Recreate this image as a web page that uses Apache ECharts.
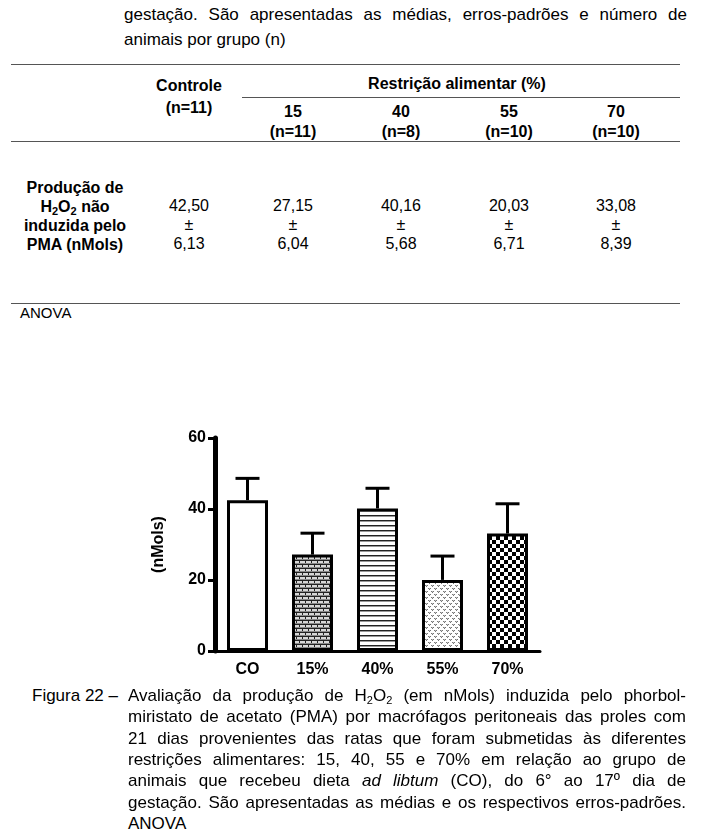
<!DOCTYPE html>
<html lang="pt">
<head>
<meta charset="UTF-8">
<title>Figura 22 - Produção de H2O2</title>
<script src="https://cdn.jsdelivr.net/npm/echarts@6/dist/echarts.min.js"></script>
<style>
  html, body { margin: 0; padding: 0; background: #fff; }
  body { width: 715px; height: 840px; position: relative; overflow: hidden;
         font-family: 'Liberation Sans', Arial, sans-serif; color: #000; }
  .abs { position: absolute; }
  .line { position: absolute; font-size: 17px; line-height: 21px; white-space: normal; }
  .just { text-align: justify; text-align-last: justify; }
  .rule { position: absolute; height: 0; border-top: 1.5px solid #555; }
  .cell { position: absolute; text-align: center; font-size: 16px; }
  .b { font-weight: bold; }
  sub { font-size: 11px; line-height: 0; vertical-align: -3px; }
  #chart { position: absolute; left: 140px; top: 420px; width: 420px; height: 270px; }
</style>
</head>
<body>

<!-- fim da legenda da tabela -->
<div class="line just" style="left:124px; top:4px; width:563px;">gestação. São apresentadas as médias, erros-padrões e número de</div>
<div class="line" style="left:124px; top:29px;">animais por grupo (n)</div>

<!-- tabela -->
<div id="table"></div>
<div class="abs" style="left:20px; top:304px; font-size:15px; line-height:18px;">ANOVA</div>

<div id="chart"></div>

<!-- legenda da figura -->
<div class="line" style="left:32px; top:685px;">Figura 22 –</div>
<div class="line just" style="left:128px; top:685px; width:558px;">Avaliação da produção de H<sub>2</sub>O<sub>2</sub> (em nMols) induzida pelo phorbol-</div>
<div class="line just" style="left:128px; top:706px; width:558px;">miristato de acetato (PMA) por macrófagos peritoneais das proles com</div>
<div class="line just" style="left:128px; top:728px; width:558px;">21 dias provenientes das ratas que foram submetidas às diferentes</div>
<div class="line just" style="left:128px; top:749px; width:558px;">restrições alimentares: 15, 40, 55 e 70% em relação ao grupo de</div>
<div class="line just" style="left:128px; top:770px; width:558px;">animais que recebeu dieta <i>ad libtum</i> (CO), do 6° ao 17º dia de</div>
<div class="line just" style="left:128px; top:792px; width:558px;">gestação. São apresentadas as médias e os respectivos erros-padrões.</div>
<div class="line" style="left:128px; top:813px;">ANOVA</div>

<script>
// dados
const categories = ['CO', '15%', '40%', '55%', '70%'];
const groups = ['15', '40', '55', '70'];
const nPerGroup = [11, 11, 8, 10, 10];
const means = [42.50, 27.15, 40.16, 20.03, 33.08];
const sems = [6.13, 6.04, 5.68, 6.71, 8.39];
const yMin = 0, yMax = 60, yStep = 20;

const FONT = "'Liberation Sans', Arial, sans-serif";
const fmt = v => v.toFixed(2).replace('.', ',');

// --- tabela em HTML ---
const table = document.getElementById('table');
const colX = [189, 293, 401, 509, 616];
let html = '';
html += '<div class="rule" style="left:11px; top:64px; width:669px;"></div>';
html += '<div class="rule" style="left:242px; top:97px; width:438px;"></div>';
html += '<div class="rule" style="left:11px; top:141px; width:669px;"></div>';
html += '<div class="rule" style="left:11px; top:303px; width:669px;"></div>';
html += '<div class="cell b" style="left:' + (colX[0] - 60) + 'px; top:75px; width:120px; line-height:22px;">Controle<br>(n=' + nPerGroup[0] + ')</div>';
html += '<div class="cell b" style="left:307px; top:74px; width:300px; line-height:20px;">Restrição alimentar (%)</div>';
groups.forEach((g, i) => {
  html += '<div class="cell b" style="left:' + (colX[i + 1] - 50) + 'px; top:102px; width:100px; line-height:20px;">' +
          g + '<br>(n=' + nPerGroup[i + 1] + ')</div>';
});
html += '<div class="cell b" style="left:10px; top:178px; width:130px; line-height:19px;">Produção de<br>H<sub>2</sub>O<sub>2</sub> não<br>induzida pelo<br>PMA (nMols)</div>';
means.forEach((m, i) => {
  html += '<div class="cell" style="left:' + (colX[i] - 50) + 'px; top:196px; width:100px; line-height:19px;">' +
          fmt(m) + '<br>±<br>' + fmt(sems[i]) + '</div>';
});
table.innerHTML = html;

// --- padrões de preenchimento das barras ---
function pattern(w, h, draw) {
  const c = document.createElement('canvas');
  c.width = w; c.height = h;
  const ctx = c.getContext('2d');
  ctx.fillStyle = '#fff';
  ctx.fillRect(0, 0, w, h);
  draw(ctx);
  return { image: c, repeat: 'repeat' };
}
const brick = pattern(12, 8, ctx => {
  ctx.fillStyle = '#d8d8d8'; ctx.fillRect(0, 0, 12, 8);
  ctx.fillStyle = '#222';
  ctx.fillRect(0, 0, 12, 1); ctx.fillRect(0, 4, 12, 1);
  ctx.fillRect(0, 0, 1, 4); ctx.fillRect(6, 0, 1, 4);
  ctx.fillRect(3, 4, 1, 4); ctx.fillRect(9, 4, 1, 4);
  ctx.fillStyle = '#888';
  ctx.fillRect(0, 3, 12, 1); ctx.fillRect(0, 7, 12, 1);
});
const stripes = pattern(4, 5, ctx => {
  ctx.fillStyle = '#222'; ctx.fillRect(0, 0, 4, 1);
  ctx.fillStyle = '#999'; ctx.fillRect(0, 1, 4, 1);
});
const dots = pattern(6, 6, ctx => {
  ctx.fillStyle = '#777';
  ctx.fillRect(0, 0, 1, 1); ctx.fillRect(2, 0, 1, 1); ctx.fillRect(1, 1, 1, 1);
  ctx.fillRect(3, 3, 1, 1); ctx.fillRect(5, 3, 1, 1); ctx.fillRect(4, 4, 1, 1);
  ctx.fillStyle = '#bbb';
  ctx.fillRect(1, 0, 1, 1); ctx.fillRect(4, 3, 1, 1);
});
const checker = pattern(8, 8, ctx => {
  ctx.fillStyle = '#000';
  ctx.fillRect(0, 0, 4, 4); ctx.fillRect(4, 4, 4, 4);
});
const fills = ['#fff', brick, stripes, dots, checker];

// --- gráfico ---
const chart = echarts.init(document.getElementById('chart'));
const axisText = { color: '#000', fontWeight: 'bold', fontFamily: FONT };

chart.setOption({
  animation: false,
  grid: { left: 75, top: 18, width: 325, height: 213 },
  xAxis: {
    type: 'category',
    data: categories,
    axisLine: { lineStyle: { color: '#000', width: 3 } },
    axisTick: { show: false },
    axisLabel: Object.assign({ fontSize: 16, margin: 11 }, axisText)
  },
  yAxis: {
    type: 'value',
    min: yMin, max: yMax, interval: yStep,
    name: '(nMols)',
    nameLocation: 'middle',
    nameRotate: 90,
    nameGap: 48,
    nameTextStyle: Object.assign({ fontSize: 16 }, axisText),
    axisLine: { show: true, lineStyle: { color: '#000', width: 5 } },
    axisTick: { show: true, length: 7, lineStyle: { color: '#000', width: 3 } },
    axisLabel: Object.assign({ fontSize: 16, margin: 9 }, axisText),
    splitLine: { show: false }
  },
  series: [
    {
      type: 'bar',
      barWidth: 41,
      data: means.map((m, i) => ({
        value: m,
        itemStyle: { color: fills[i], borderColor: '#000', borderWidth: 3 }
      }))
    },
    {
      type: 'custom',
      z: 5,
      encode: { x: 0, y: [1, 2] },
      data: means.map((m, i) => [i, m, m + sems[i]]),
      renderItem: function (params, api) {
        const x = api.value(0);
        const lo = api.coord([x, api.value(1)]);
        const hi = api.coord([x, api.value(2)]);
        const st = { stroke: '#000', lineWidth: 3 };
        return {
          type: 'group',
          children: [
            { type: 'line', shape: { x1: lo[0], y1: lo[1], x2: hi[0], y2: hi[1] }, style: st },
            { type: 'line', shape: { x1: hi[0] - 12, y1: hi[1], x2: hi[0] + 12, y2: hi[1] }, style: st }
          ]
        };
      }
    }
  ]
});
</script>
</body>
</html>
